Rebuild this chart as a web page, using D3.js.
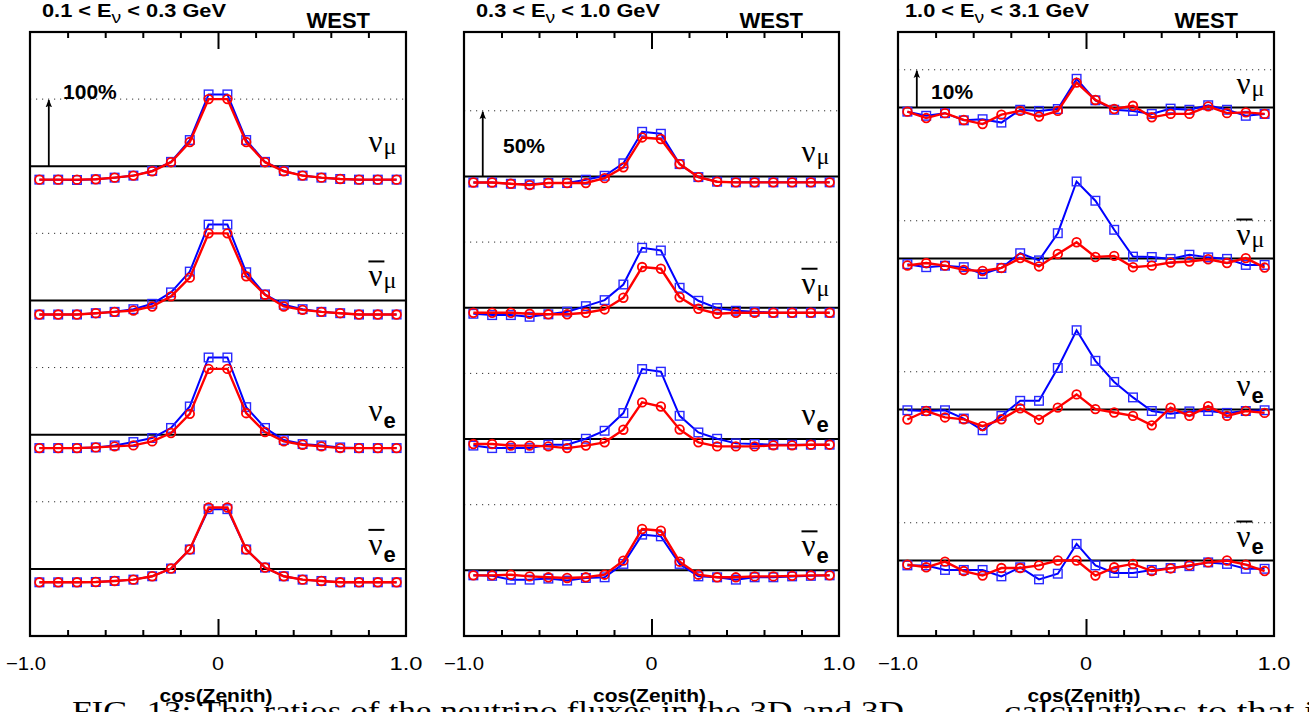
<!DOCTYPE html>
<html>
<head>
<meta charset="utf-8">
<script src="https://cdn.jsdelivr.net/npm/d3@7"></script>
<style>
  body { margin: 0; background: #fff; }
  text { font-family: "Liberation Sans", Arial, sans-serif; }
</style>
</head>
<body>
<svg id="chart" width="1309" height="712"></svg>
<script>
// cos(zenith) bin centres
var cosBins = [-0.95, -0.85, -0.75, -0.65, -0.55, -0.45, -0.35, -0.25, -0.15, -0.05,
               0.05, 0.15, 0.25, 0.35, 0.45, 0.55, 0.65, 0.75, 0.85, 0.95];
var minorTicks = [-0.8, -0.6, -0.4, -0.2, 0.2, 0.4, 0.6, 0.8];
var tickLabels = ["\u22121.0", "0", "1.0"];
var flavours = ["numu", "numubar", "nue", "nuebar"];
var energyTitles = ["0.1 < E|\u03bd| < 0.3 GeV", "0.3 < E|\u03bd| < 1.0 GeV", "1.0 < E|\u03bd| < 3.1 GeV"];
var scaleLabels = ["100%", "50%", "10%"];

// ratios in percent, blue squares / red circles
// 0.1 - 0.3 GeV
var low_numu_blue    = [-20,-20,-20.5,-19.5,-17,-14,-7,6.5,39,107,107,39,6.5,-7,-14,-17,-19,-20,-20,-20];
var low_numu_red     = [-20,-20,-20,-19.5,-17,-14,-7.5,6,36,100,100,36,6,-7.5,-14,-17,-19,-20,-20,-20];
var low_numubar_blue = [-21,-21,-21,-19,-17,-13,-5,12,43,113,113,42,9,-6.5,-13,-17,-19,-21,-21,-21];
var low_numubar_red  = [-21,-21,-21,-19,-17,-15,-9,6,34,100,100,36,8.5,-9,-14,-17,-19,-21,-21,-21];
var low_nue_blue     = [-20,-20,-20,-19,-16,-11,-5,10,42,115,115,41,10,-8,-14,-16,-19,-20,-20,-20];
var low_nue_red      = [-20,-20,-20,-19,-17.5,-16,-10,2.5,31,98,98,32,4,-10,-15,-17.5,-20,-20,-20,-20];
var low_nuebar_blue  = [-20,-20,-20,-19.5,-18,-16,-11,0.5,29,89,89,29,2,-11,-16,-18,-20,-20,-20,-20];
var low_nuebar_red   = [-20,-20,-20,-19.5,-18,-16,-11,0.5,29,91.5,91.5,29,2,-11,-16,-18,-20,-20,-20,-20];

// 0.3 - 1.0 GeV
var mid_numu_blue    = [-4.6,-4.6,-5.6,-6,-5,-5,-2.5,0.5,10,34,32.5,9.4,-0.5,-4,-4.5,-4.5,-4.5,-4.5,-4.5,-4.5];
var mid_numu_red     = [-4.6,-4.6,-5.6,-6.6,-5,-5,-5,-1.3,6.9,29.7,28.5,9.4,-0.5,-4,-4.5,-4.5,-4.5,-4.5,-4.5,-4.5];
var mid_numubar_blue = [-4.6,-5.6,-5.6,-6.9,-5,-3,1.2,5.8,17.7,45.7,43.6,15.2,5.3,-0.3,-2.3,-3,-3.8,-3.8,-3.8,-3.8];
var mid_numubar_red  = [-3.8,-3.8,-3.8,-4.6,-5,-5,-3.8,-1.3,7.6,31,29.7,8,-0.8,-4.6,-3.8,-3.8,-3.8,-3.8,-3.8,-3.8];
var mid_nue_blue     = [-5,-6.9,-6.9,-6.9,-4.3,-4.3,0.2,6.3,19.8,53.3,51.3,17.7,5,0.2,-3.3,-3.8,-4.3,-4.3,-4.3,-4.3];
var mid_nue_red      = [-3.8,-3.8,-5,-5,-5.6,-6.9,-5,-2.5,7.1,27.9,24.8,7.3,-2.5,-5.6,-5.6,-5.6,-4.8,-4.8,-4.3,-4.3];
var mid_nuebar_blue  = [-3.8,-4.2,-7.1,-7.1,-6.3,-7.8,-5.8,-5.3,4.9,27.2,25.9,4.9,-4.6,-5.3,-7.1,-5.3,-5.3,-4.6,-4.2,-3.8];
var mid_nuebar_red   = [-3.8,-3.8,-3.3,-4.6,-5.3,-5.8,-5.3,-3.3,7.4,31.5,30.2,6.6,-3.3,-5.3,-5.3,-4.6,-4.6,-4.2,-3.8,-3.8];

// 1.0 - 3.1 GeV
var high_numu_blue    = [-1.1,-2.2,-1.5,-3.4,-3.1,-4,-0.6,-0.9,-0.4,7.6,1.9,-0.6,-0.9,-1.7,-0.3,-0.6,0.6,-0.6,-2.2,-1.7];
var high_numu_red     = [-1.1,-2.8,-1.5,-3.3,-4.4,-1.9,-0.9,-2.4,-0.9,6.6,2,-0.4,0.45,-2.6,-1.7,-1.7,0.3,-1.5,-1.3,-1.7];
var high_numubar_blue = [-1.5,-2.3,-1.9,-2.3,-4.1,-2.5,1.4,-0.5,6.7,20.4,15.3,7.6,0.5,0.4,-0.1,1,0.3,-0.1,-1.7,-1.7];
var high_numubar_red  = [-1.85,-1.2,-1.9,-3,-3.3,-2.5,0.1,-2.1,1.2,4.3,0.4,0.7,-2.3,-1.9,-1.05,-0.8,-0.2,-1.2,0.1,-2.4];
var high_nue_blue     = [-0.2,-0.4,-0.2,-2.4,-5.5,-1.7,2.3,2.3,11,21,12.9,7.3,3.2,-0.4,-1.1,-0.5,-0.4,-0.9,-0.4,-0.2];
var high_nue_red      = [-2.65,-0.4,-2.1,-2.6,-4.4,-2.6,0.3,-2.7,0.5,4,0.1,-0.8,-1.7,-4.2,0.5,-1.7,0.9,-1.7,-0.4,-0.9];
var high_nuebar_blue  = [-1.3,-1.3,-2.5,-2.5,-2.5,-4.2,-1.8,-5,-3.5,4.4,-1.3,-3.3,-3.3,-2.5,-2,-1.5,-0.5,-0.9,-2.2,-2.2];
var high_nuebar_red   = [-1.1,-1.8,-0.3,-2.8,-4,-2,-2,-1.3,0,0,-4,-1.8,-0.9,-2.8,-2.1,-1.3,-0.5,0,-1.1,-2.8];

var seriesData = [
    {numu: [low_numu_blue, low_numu_red], numubar: [low_numubar_blue, low_numubar_red],
     nue: [low_nue_blue, low_nue_red], nuebar: [low_nuebar_blue, low_nuebar_red]},
    {numu: [mid_numu_blue, mid_numu_red], numubar: [mid_numubar_blue, mid_numubar_red],
     nue: [mid_nue_blue, mid_nue_red], nuebar: [mid_nuebar_blue, mid_nuebar_red]},
    {numu: [high_numu_blue, high_numu_red], numubar: [high_numubar_blue, high_numubar_red],
     nue: [high_nue_blue, high_nue_red], nuebar: [high_nuebar_blue, high_nuebar_red]}
];

// layout of the three frames (y in percent, each flavour shifted by an offset)
var plotTop = 32, plotBottom = 636;
var panels = [
    {left: 30,  right: 406,  domain: [-100, 800], offsets: [600, 400, 200, 0], unit: 100, labelX: -0.824, labelY: 100},
    {left: 464, right: 839,  domain: [-50, 410],  offsets: [300, 200, 100, 0], unit: 50,  labelX: -0.792, labelY: 17.8},
    {left: 898, right: 1274, domain: [-20, 140],  offsets: [120, 80, 40, 0],   unit: 10,  labelX: -0.824, labelY: 2.2}
];

var svg = d3.select("#chart");

// arrow head for the scale arrows
svg.append("defs").append("marker")
    .attr("id", "arrow")
    .attr("viewBox", "0 0 10 10")
    .attr("refX", 9).attr("refY", 5)
    .attr("markerWidth", 8).attr("markerHeight", 8)
    .attr("markerUnits", "userSpaceOnUse")
    .attr("orient", "auto")
    .append("path")
    .attr("d", "M0,1 L10,5 L0,9 L2,5 Z")
    .attr("fill", "#000");

panels.forEach(function(p, pi) {
    var x = d3.scaleLinear().domain([-1, 1]).range([p.left, p.right]);
    var y = d3.scaleLinear().domain(p.domain).range([plotBottom, plotTop]);
    var g = svg.append("g");

    // rows: dotted scale line, zero line, then the two series
    flavours.forEach(function(f, r) {
        var off = p.offsets[r];
        g.append("line")
            .attr("x1", x(-1)).attr("x2", x(1))
            .attr("y1", y(off + p.unit)).attr("y2", y(off + p.unit))
            .attr("stroke", "#333").attr("stroke-width", 1)
            .attr("stroke-dasharray", "1.2,4.8");
        g.append("line")
            .attr("x1", x(-1)).attr("x2", x(1))
            .attr("y1", y(off)).attr("y2", y(off))
            .attr("stroke", "#000").attr("stroke-width", 2);

        var pair = seriesData[pi][f];
        var line = d3.line()
            .x(function(d, i) { return x(cosBins[i]); })
            .y(function(d) { return y(off + d); });

        // blue squares
        g.append("path").datum(pair[0])
            .attr("d", line).attr("fill", "none")
            .attr("stroke", "#0000ff").attr("stroke-width", 2);
        g.selectAll(null).data(pair[0]).enter().append("rect")
            .attr("x", function(d, i) { return x(cosBins[i]) - 4.3; })
            .attr("y", function(d) { return y(off + d) - 4.3; })
            .attr("width", 8.6).attr("height", 8.6)
            .attr("fill", "none").attr("stroke", "#2a2aff").attr("stroke-width", 1.4);

        // red circles on top
        g.append("path").datum(pair[1])
            .attr("d", line).attr("fill", "none")
            .attr("stroke", "#ff0000").attr("stroke-width", 2.4);
        g.selectAll(null).data(pair[1]).enter().append("circle")
            .attr("cx", function(d, i) { return x(cosBins[i]); })
            .attr("cy", function(d) { return y(off + d); })
            .attr("r", 4.3)
            .attr("fill", "none").attr("stroke", "#ff0000").attr("stroke-width", 1.8);

        // flavour label: nu with a subscript, bar for anti-neutrinos
        var yb = y(off);
        var lx = x(0.8);
        var lab = g.append("text")
            .attr("x", lx).attr("y", yb - 14);
        lab.append("tspan")
            .style("font-family", "'Liberation Serif', serif")
            .style("font-size", "31px")
            .text("\u03bd");
        var isE = f.indexOf("nue") === 0;
        lab.append("tspan")
            .attr("dy", isE ? 7 : 2)
            .attr("dx", 1)
            .style("font-family", isE ? "'Liberation Sans', sans-serif" : "'Liberation Serif', serif")
            .style("font-weight", isE ? "bold" : "normal")
            .style("font-size", isE ? "22px" : "24px")
            .text(isE ? "e" : "\u03bc");
        if (f.indexOf("bar") > 0) {
            g.append("line")
                .attr("x1", lx).attr("x2", lx + 16)
                .attr("y1", yb - 39).attr("y2", yb - 39)
                .attr("stroke", "#000").attr("stroke-width", 2);
        }
    });

    // scale arrow and its label
    var top0 = p.offsets[0];
    g.append("line")
        .attr("x1", x(-0.9)).attr("x2", x(-0.9))
        .attr("y1", y(top0)).attr("y2", y(top0 + p.unit) + 1)
        .attr("stroke", "#000").attr("stroke-width", 1.8)
        .attr("marker-end", "url(#arrow)");
    g.append("text")
        .attr("x", x(p.labelX)).attr("y", y(top0 + p.labelY))
        .style("font-weight", "bold").style("font-size", "21px")
        .text(scaleLabels[pi]);

    // ticks along top and bottom edges
    g.append("g").attr("transform", "translate(0," + plotTop + ")")
        .call(d3.axisBottom(x).tickValues(minorTicks).tickSize(6).tickFormat(""));
    g.append("g").attr("transform", "translate(0," + plotTop + ")")
        .call(d3.axisBottom(x).tickValues([0]).tickSize(17).tickFormat(""));
    g.append("g").attr("transform", "translate(0," + plotBottom + ")")
        .call(d3.axisTop(x).tickValues(minorTicks).tickSize(6).tickFormat(""));
    g.append("g").attr("transform", "translate(0," + plotBottom + ")")
        .call(d3.axisTop(x).tickValues([0]).tickSize(17).tickFormat(""));
    g.selectAll(".domain").remove();
    g.selectAll(".tick line").attr("stroke", "#000").attr("stroke-width", 2);

    // frame
    g.append("rect")
        .attr("x", p.left).attr("y", plotTop)
        .attr("width", p.right - p.left).attr("height", plotBottom - plotTop)
        .attr("fill", "none").attr("stroke", "#000").attr("stroke-width", 2.2);

    // axis numbers
    [-1, 0, 1].forEach(function(v, k) {
        g.append("text")
            .attr("x", x(v) - (k === 0 && pi === 0 ? 4 : 0)).attr("y", 670)
            .attr("text-anchor", "middle")
            .attr("textLength", [40, 12, 33][k]).attr("lengthAdjust", "spacingAndGlyphs")
            .style("font-size", "19px")
            .text(tickLabels[k]);
    });
    g.append("text")
        .attr("x", x(0) - 2).attr("y", 702)
        .attr("text-anchor", "middle")
        .attr("textLength", 113).attr("lengthAdjust", "spacingAndGlyphs")
        .style("font-weight", "bold").style("font-size", "19px")
        .text("cos(Zenith)");

    // title and WEST
    var parts = energyTitles[pi].split("|");
    var t = g.append("text")
        .attr("x", p.left + (pi === 2 ? 7 : 12)).attr("y", 17)
        .attr("textLength", 184).attr("lengthAdjust", "spacingAndGlyphs")
        .style("font-weight", "bold").style("font-size", "18px");
    t.append("tspan").text(parts[0]);
    t.append("tspan").attr("dy", 6).style("font-size", "16px").style("font-weight", "normal").text(parts[1]);
    t.append("tspan").attr("dy", -6).text(parts[2]);
    g.append("text")
        .attr("x", p.right - 36).attr("y", 28)
        .attr("text-anchor", "end")
        .style("font-weight", "bold").style("font-size", "22px")
        .text("WEST");
});

// figure caption, cut by the bottom of the image
svg.append("text")
    .attr("x", 72).attr("y", 720)
    .attr("textLength", 832).attr("lengthAdjust", "spacingAndGlyphs")
    .style("font-family", "'Liberation Serif', serif").style("font-size", "28px")
    .text("FIG. 13: The ratios of the neutrino fluxes in the 3D and 3D");
svg.append("text")
    .attr("x", 1004).attr("y", 720)
    .attr("textLength", 330).attr("lengthAdjust", "spacingAndGlyphs")
    .style("font-family", "'Liberation Serif', serif").style("font-size", "28px")
    .text("calculations to that in");
</script>
</body>
</html>
